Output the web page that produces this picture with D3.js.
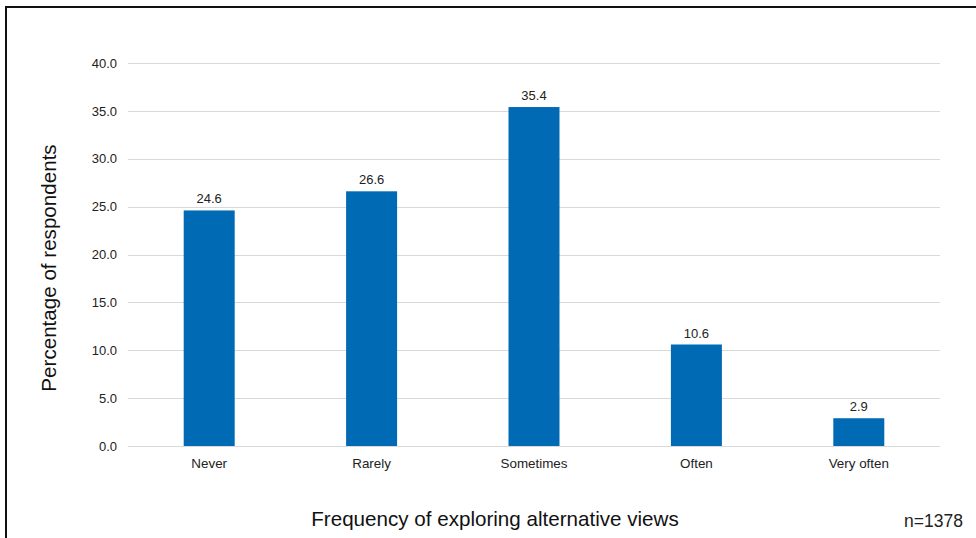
<!DOCTYPE html>
<html><head><meta charset="utf-8">
<script src="https://cdn.jsdelivr.net/npm/d3@7"></script>
<style>html,body{margin:0;padding:0;background:#fff;}svg{display:block;font-family:"Liberation Sans",Arial,sans-serif;}</style>
</head><body>
<svg id="c" width="976" height="538"></svg>
<script>
const categories = ["Never","Rarely","Sometimes","Often","Very often"];
const values = [24.6, 26.6, 35.4, 10.6, 2.9];
const yTicks = [0,5,10,15,20,25,30,35,40];
const xTitle = "Frequency of exploring alternative views";
const yTitle = "Percentage of respondents";
const note = "n=1378";

const svg = d3.select("#c");
const m = {left:128, right:940, top:63, bottom:446};

// frame
svg.append("path").attr("d","M6,538 L6,7 L976,7").attr("fill","none").attr("stroke","#111").attr("stroke-width",2);

const x = d3.scaleBand().domain(categories).range([m.left,m.right]).padding(0);
const y = d3.scaleLinear().domain([0,40]).range([m.bottom,m.top]);
const barW = x.bandwidth()*0.314;

// grid
svg.append("g").selectAll("line").data(yTicks).join("line")
  .attr("x1",m.left).attr("x2",m.right)
  .attr("y1",d=>Math.round(y(d))+0.5).attr("y2",d=>Math.round(y(d))+0.5)
  .attr("stroke","#d9d9d9").attr("stroke-width",1);

// y axis labels
const yAxis = d3.axisLeft(y).tickValues(yTicks).tickFormat(d3.format(".1f")).tickSize(0).tickPadding(11);
const ga = svg.append("g").attr("transform",`translate(${m.left},0)`).call(yAxis);
ga.select(".domain").remove();
ga.selectAll("text").attr("font-size",13).attr("fill","#222").attr("font-family","Liberation Sans, Arial, sans-serif");

// bars
svg.append("g").selectAll("rect").data(values).join("rect")
  .attr("x",(d,i)=>x(categories[i])+x.bandwidth()/2-barW/2)
  .attr("width",barW)
  .attr("y",d=>y(d)).attr("height",d=>y(0)-y(d))
  .attr("fill","#006ab5");

// value labels
svg.append("g").selectAll("text").data(values).join("text")
  .attr("x",(d,i)=>x(categories[i])+x.bandwidth()/2)
  .attr("y",d=>y(d)-7)
  .attr("text-anchor","middle").attr("font-size",13).attr("fill","#222")
  .text(d=>d.toFixed(1));

// x axis labels
const xAxis = d3.axisBottom(x).tickSize(0).tickPadding(12);
const gx = svg.append("g").attr("transform",`translate(0,${m.bottom})`).call(xAxis);
gx.select(".domain").remove();
gx.selectAll("text").attr("font-size",13.4).attr("fill","#222").attr("font-family","Liberation Sans, Arial, sans-serif");

// titles
svg.append("text").attr("x",495).attr("y",526).attr("text-anchor","middle")
  .attr("font-size",20.6).attr("fill","#111").text(xTitle);
svg.append("text").attr("transform","translate(56,268) rotate(-90)").attr("text-anchor","middle")
  .attr("font-size",20.6).attr("fill","#111").text(yTitle);
svg.append("text").attr("x",963).attr("y",527).attr("text-anchor","end")
  .attr("font-size",17.5).attr("fill","#222").text(note);
</script>
</body></html>
